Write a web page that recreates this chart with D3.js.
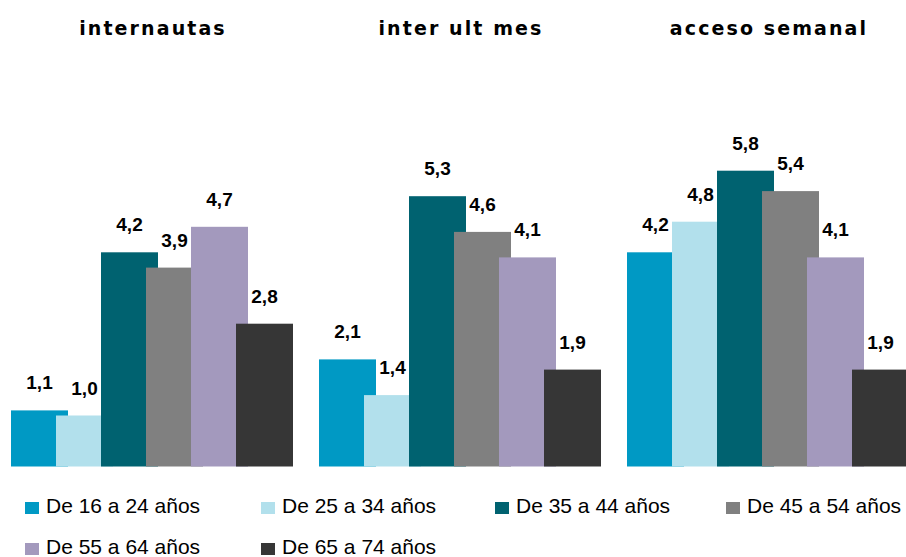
<!DOCTYPE html>
<html><head><meta charset="utf-8">
<script src="https://cdn.jsdelivr.net/npm/d3@7"></script>
<style>
html,body{margin:0;padding:0;background:#fff;overflow:hidden;}
svg{display:block;}
</style></head>
<body>
<svg id="chart" width="906" height="557"></svg>
<script>
const groups = ["internautas", "inter ult mes", "acceso semanal"];
const series = ["De 16 a 24 años", "De 25 a 34 años", "De 35 a 44 años", "De 45 a 54 años", "De 55 a 64 años", "De 65 a 74 años"];
const colors = ["#0099C4", "#B2E0EC", "#006270", "#808080", "#A399BD", "#363636"];
const s1624 = [1.1, 2.1, 4.2];
const s2534 = [1.0, 1.4, 4.8];
const s3544 = [4.2, 5.3, 5.8];
const s4554 = [3.9, 4.6, 5.4];
const s5564 = [4.7, 4.1, 4.1];
const s6574 = [2.8, 1.9, 1.9];
const values = [s1624, s2534, s3544, s4554, s5564, s6574];

const svg = d3.select("#chart");
const fmt = v => d3.format(".1f")(v).replace(".", ",");

const x0 = d3.scaleBand().domain(groups).range([11, 11 + 3 * 308]).paddingInner(0);
const x1 = d3.scaleBand().domain(series).range([0, 270]);
const overlap = 12;
const barW = x1.step() + overlap;
const y = d3.scaleLinear().domain([0, 7]).range([466.5, 466.5 - 7 * 51]);

// bars
series.forEach((s, si) => {
  const g = svg.append("g");
  g.selectAll("rect").data(groups.map((gr, gi) => ({gr, v: values[si][gi]})))
    .join("rect")
    .attr("x", d => x0(d.gr) + x1(s))
    .attr("y", d => y(d.v))
    .attr("width", barW)
    .attr("height", d => y(0) - y(d.v))
    .attr("fill", colors[si]);
});
// labels
series.forEach((s, si) => {
  svg.append("g").selectAll("text").data(groups.map((gr, gi) => ({gr, v: values[si][gi]})))
    .join("text")
    .attr("x", d => x0(d.gr) + x1(s) + barW / 2)
    .attr("y", d => y(d.v) - 21)
    .attr("text-anchor", "middle")
    .attr("font-family", "Liberation Sans, Arial, sans-serif")
    .attr("font-weight", "bold")
    .attr("font-size", 19)
    .attr("fill", "#000")
    .text(d => fmt(d.v));
});
// titles
svg.append("g").selectAll("text").data(groups).join("text")
  .attr("x", d => x0(d) + (270 + overlap) / 2 + 1)
  .attr("y", 35)
  .attr("text-anchor", "middle")
  .attr("font-family", "DejaVu Sans, Verdana, sans-serif")
  .attr("font-weight", "bold")
  .attr("font-size", 19)
  .attr("letter-spacing", 2.1)
  .attr("fill", "#000")
  .text(d => d);

// legend
const lx = [25, 261, 495, 726];
const leg = svg.append("g").selectAll("g").data(series).join("g")
  .attr("transform", (d, i) => `translate(${lx[i % 4]},${i < 4 ? 502 : 543})`);
leg.append("rect").attr("width", 14).attr("height", 12).attr("fill", (d, i) => colors[i]);
leg.append("text").attr("x", 21).attr("y", 11)
  .attr("font-family", "Liberation Sans, Arial, sans-serif")
  .attr("font-size", 21)
  .attr("fill", "#000")
  .text(d => d);
</script>
</body></html>
